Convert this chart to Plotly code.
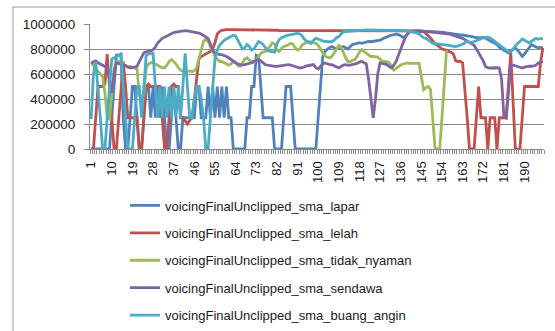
import plotly.graph_objects as go

categories = list(range(1, 199))
tick_labels = [str(v) for v in range(1, 191, 9)]

lapar = [
    0, 0, 0, 0, 0, 0, 0, 0, 0, 250000,
    500000, 750000, 750000, 760000, 250000, 0, 0, 250000, 500000, 500000,
    250000, 0, 0, 250000, 500000, 500000, 250000, 500000, 250000, 500000,
    250000, 500000, 250000, 0, 0, 250000, 500000, 250000, 0, 0,
    250000, 250000, 250000, 250000, 250000, 250000, 500000, 500000, 250000, 250000,
    250000, 500000, 250000, 500000, 250000, 500000, 250000, 500000, 250000, 500000,
    250000, 250000, 0, 0, 0, 0, 0, 0, 250000, 250000,
    500000, 500000, 750000, 740000, 500000, 250000, 250000, 250000, 250000, 250000,
    0, 0, 0, 0, 250000, 500000, 500000, 500000, 250000, 0,
    0, 0, 0, 0, 0, 0, 0, 0, 0, 250000,
    500000, 740000, 780000, 800000, 810000, 820000, 810000, 800000, 805000, 815000,
    820000, 810000, 800000, 820000, 835000, 840000, 845000, 850000, 845000, 850000,
    855000, 860000, 858000, 860000, 865000, 862000, 870000, 880000, 890000, 900000,
    905000, 910000, 915000, 918000, 915000, 905000, 895000, 900000, 925000, 940000,
    942000, 945000, 945000, 944000, 943000, 942000, 942000, 941000, 941000, 940000,
    940000, 938000, 936000, 935000, 932000, 928000, 925000, 920000, 918000, 915000,
    915000, 912000, 912000, 910000, 908000, 905000, 900000, 895000, 890000, 888000,
    890000, 895000, 885000, 875000, 870000, 860000, 850000, 835000, 815000, 800000,
    790000, 780000, 770000, 785000, 800000, 808000, 790000, 765000, 741000, 760000,
    781000, 810000, 835000, 825000, 815000, 808000, 815000, 810000,
]

lelah = [
    0, 0, 250000, 500000, 500000, 500000, 520000, 760000, 500000, 250000,
    0, 0, 250000, 500000, 700000, 500000, 250000, 250000, 250000, 250000,
    250000, 0, 0, 250000, 500000, 520000, 500000, 500000, 500000, 500000,
    500000, 250000, 0, 0, 250000, 500000, 520000, 500000, 500000, 250000,
    250000, 220000, 200000, 230000, 250000, 400000, 550000, 720000, 740000, 750000,
    760000, 770000, 780000, 800000, 850000, 920000, 940000, 950000, 955000, 955000,
    955000, 955000, 955000, 955000, 955000, 955000, 955000, 955000, 955000, 955000,
    955000, 955000, 955000, 955000, 955000, 955000, 955000, 955000, 955000, 955000,
    952000, 950000, 948000, 948000, 948000, 946000, 945000, 945000, 945000, 945000,
    945000, 945000, 945000, 945000, 945000, 945000, 945000, 945000, 945000, 945000,
    944000, 944000, 944000, 945000, 945000, 945000, 946000, 946000, 946000, 946000,
    946000, 946000, 947000, 947000, 947000, 948000, 948000, 948000, 948000, 948000,
    948000, 948000, 948000, 948000, 948000, 948000, 948000, 948000, 948000, 948000,
    948000, 948000, 948000, 948000, 948000, 948000, 948000, 948000, 948000, 948000,
    948000, 948000, 948000, 948000, 945000, 940000, 925000, 905000, 888000, 865000,
    840000, 830000, 815000, 800000, 795000, 790000, 785000, 775000, 760000, 705000,
    700000, 700000, 690000, 500000, 250000, 0, 0, 0, 250000, 500000,
    250000, 250000, 250000, 0, 250000, 250000, 250000, 0, 250000, 250000,
    250000, 250000, 520000, 770000, 380000, 0, 0, 0, 250000, 500000,
    500000, 500000, 500000, 500000, 500000, 500000, 690000, 810000,
]

tidak_nyaman = [
    690000, 670000, 640000, 620000, 600000, 580000, 450000, 250000, 240000, 450000,
    640000, 700000, 700000, 690000, 680000, 670000, 660000, 660000, 655000, 650000,
    640000, 430000, 420000, 430000, 650000, 680000, 690000, 690000, 680000, 665000,
    655000, 650000, 650000, 670000, 700000, 715000, 700000, 680000, 650000, 630000,
    620000, 630000, 620000, 625000, 620000, 625000, 650000, 720000, 800000, 860000,
    880000, 860000, 820000, 780000, 740000, 720000, 700000, 700000, 690000, 680000,
    670000, 680000, 700000, 690000, 665000, 660000, 690000, 720000, 730000, 710000,
    700000, 690000, 710000, 740000, 765000, 775000, 780000, 800000, 820000, 850000,
    840000, 790000, 780000, 805000, 820000, 825000, 835000, 845000, 840000, 810000,
    792000, 800000, 832000, 845000, 855000, 860000, 858000, 850000, 845000, 830000,
    800000, 770000, 745000, 735000, 728000, 740000, 770000, 795000, 830000, 815000,
    770000, 730000, 700000, 700000, 710000, 715000, 740000, 775000, 795000, 780000,
    765000, 750000, 740000, 740000, 739000, 735000, 720000, 700000, 700000, 699000,
    690000, 660000, 632000, 645000, 660000, 672000, 680000, 685000, 688000, 685000,
    686000, 685000, 688000, 685000, 580000, 475000, 490000, 500000, 475000, 250000,
    0, 0, 0, 250000, 520000, 790000,
]

sendawa = [
    690000, 700000, 705000, 690000, 680000, 670000, 665000, 650000, 560000, 450000,
    600000, 690000, 685000, 680000, 675000, 665000, 655000, 650000, 652000, 655000,
    661000, 700000, 740000, 770000, 778000, 781000, 785000, 795000, 815000, 848000,
    870000, 885000, 895000, 905000, 918000, 928000, 932000, 935000, 938000, 942000,
    945000, 947000, 945000, 942000, 938000, 935000, 930000, 928000, 920000, 910000,
    895000, 885000, 840000, 790000, 770000, 760000, 755000, 755000, 750000, 740000,
    730000, 715000, 701000, 690000, 680000, 675000, 672000, 675000, 680000, 680000,
    690000, 701000, 710000, 715000, 705000, 690000, 675000, 670000, 665000, 662000,
    661000, 661000, 665000, 668000, 670000, 672000, 675000, 672000, 665000, 660000,
    655000, 648000, 650000, 660000, 665000, 668000, 672000, 675000, 650000, 640000,
    660000, 680000, 688000, 680000, 675000, 675000, 665000, 655000, 648000, 660000,
    672000, 675000, 670000, 672000, 675000, 678000, 685000, 695000, 701000, 690000,
    680000, 560000, 420000, 250000, 400000, 600000, 688000, 685000, 680000, 675000,
    660000, 648000, 670000, 701000, 750000, 800000, 850000, 895000, 920000, 936000,
    940000, 941000, 942000, 942000, 941000, 941000, 940000, 940000, 938000, 936000,
    935000, 935000, 932000, 930000, 928000, 925000, 920000, 915000, 910000, 905000,
    898000, 890000, 885000, 875000, 865000, 855000, 845000, 830000, 800000, 770000,
    740000, 705000, 660000, 650000, 648000, 650000, 652000, 650000, 648000, 560000,
    260000, 248000, 450000, 675000, 672000, 665000, 660000, 650000, 648000, 655000,
    660000, 662000, 662000, 665000, 670000, 688000, 695000, 701000,
]

buang_angin = [
    240000, 600000, 700000, 500000, 250000, 0, 0, 250000, 500000, 720000,
    730000, 740000, 750000, 755000, 500000, 250000, 0, 0, 0, 250000,
    500000, 500000, 250000, 500000, 750000, 760000, 765000, 765000, 500000, 250000,
    500000, 250000, 500000, 250000, 500000, 250000, 500000, 250000, 500000, 250000,
    500000, 765000, 500000, 250000, 250000, 400000, 500000, 500000, 400000, 250000,
    0, 0, 250000, 500000, 720000, 790000, 830000, 850000, 870000, 880000,
    890000, 900000, 910000, 905000, 870000, 840000, 800000, 810000, 835000, 820000,
    790000, 800000, 830000, 860000, 850000, 835000, 810000, 785000, 780000, 775000,
    775000, 840000, 875000, 890000, 900000, 905000, 912000, 915000, 920000, 925000,
    925000, 920000, 905000, 880000, 860000, 850000, 845000, 870000, 885000, 880000,
    870000, 865000, 860000, 862000, 858000, 858000, 870000, 890000, 898000, 920000,
    938000, 940000, 942000, 945000, 946000, 948000, 949000, 950000, 950000, 951000,
    952000, 952000, 952000, 952000, 952000, 952000, 952000, 952000, 952000, 952000,
    952000, 952000, 952000, 952000, 950000, 950000, 948000, 946000, 944000, 942000,
    940000, 935000, 930000, 920000, 905000, 890000, 885000, 870000, 855000, 845000,
    845000, 840000, 840000, 835000, 835000, 830000, 828000, 825000, 822000, 820000,
    825000, 830000, 838000, 850000, 860000, 855000, 852000, 860000, 868000, 872000,
    880000, 888000, 892000, 895000, 890000, 875000, 860000, 848000, 835000, 818000,
    805000, 792000, 780000, 778000, 800000, 825000, 845000, 860000, 880000, 870000,
    858000, 850000, 862000, 872000, 885000, 878000, 885000, 880000,
]

series_names = [
    "voicingFinalUnclipped_sma_lapar",
    "voicingFinalUnclipped_sma_lelah",
    "voicingFinalUnclipped_sma_tidak_nyaman",
    "voicingFinalUnclipped_sma_sendawa",
    "voicingFinalUnclipped_sma_buang_angin",
]
series_values = [lapar, lelah, tidak_nyaman, sendawa, buang_angin]
series_colors = ["#4F81BD", "#C0504D", "#9BBB59", "#8064A2", "#4BACC6"]

FONT = "Liberation Sans"
GRID = "#8a8a8a"

fig = go.Figure()
for name, vals, col in zip(series_names, series_values, series_colors):
    fig.add_trace(go.Scatter(
        x=categories[:len(vals)], y=vals, mode="lines", name=name,
        legendgroup=name,
        line=dict(color=col, width=2.8),
    ))

fig.update_layout(
    width=555, height=331, autosize=False,
    margin=dict(l=90, r=11, t=24, b=182, autoexpand=False),
    paper_bgcolor="white", plot_bgcolor="white",
    font=dict(family=FONT, size=13, color="#1a1a1a"),
    showlegend=True,
    legend=dict(
        orientation="v", x=(125 - 90) / 454, xanchor="left",
        y=(149 - 190.5) / 125, yanchor="top",
        tracegroupgap=7.5, bgcolor="rgba(0,0,0,0)",
        font=dict(family=FONT, size=13, color="#1a1a1a"),
    ),
    xaxis=dict(
        range=[0.5, 198.5], tickmode="array",
        tickvals=[int(t) for t in tick_labels], ticktext=tick_labels,
        tickangle=-90, ticks="", showgrid=False, zeroline=False,
        showline=True, linecolor=GRID, linewidth=1,
        tickfont=dict(family=FONT, size=13, color="#1a1a1a"),
        ticklabelstandoff=6, automargin=False,
        minor=dict(tickmode="linear", tick0=0.5, dtick=1, ticks="outside",
                   ticklen=4, tickcolor=GRID, showgrid=False),
    ),
    yaxis=dict(
        range=[0, 1000000], dtick=200000, tickformat="d",
        showgrid=True, gridcolor=GRID, gridwidth=1, zeroline=False,
        showline=True, linecolor=GRID, linewidth=1,
        ticks="outside", ticklen=5, tickcolor=GRID,
        tickfont=dict(family=FONT, size=13.5, color="#1a1a1a"),
        ticklabelstandoff=6, automargin=False,
    ),
    shapes=[
        dict(type="line", xref="paper", yref="paper",
             x0=(13 - 90) / 454, x1=(13 - 90) / 454,
             y0=(149 - 7) / 125, y1=(149 - 335) / 125,
             line=dict(color="#9a9a9a", width=1)),
        dict(type="line", xref="paper", yref="paper",
             x0=(13 - 90) / 454, x1=(560 - 90) / 454,
             y0=(149 - 7) / 125, y1=(149 - 7) / 125,
             line=dict(color="#9a9a9a", width=1)),
    ],
)

fig.write_html(
    "out.html",
    config={"displayModeBar": False},
    post_script="document.body.style.margin='0';document.body.style.overflow='hidden';",
)
